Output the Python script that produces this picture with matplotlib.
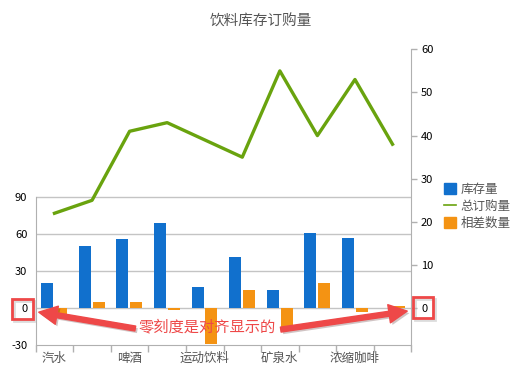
# stock vs order chart, two y axes with zero aligned

import numpy as np
import matplotlib
matplotlib.use("Agg")
import matplotlib.pyplot as plt
import matplotlib.patheffects as pe
from matplotlib.patches import Rectangle, FancyArrowPatch, Patch
from matplotlib.lines import Line2D

plt.rcParams['font.family'] = ['Noto Sans CJK SC', 'DejaVu Sans']
plt.rcParams['axes.unicode_minus'] = False

categories = ['汽水', '', '啤酒', '', '运动饮料', '', '矿泉水', '', '浓缩咖啡', '']
stock = [20, 50, 56, 69, 17, 41, 15, 61, 57, 0]
total_order = [22, 25, 41, 43, 39, 35, 55, 40, 53, 38]
diff = [-5, 5, 5, -2, -29, 15, -15, 20, -3, 2]
left_ticks = [-30, 0, 30, 60, 90]
right_ticks = [0, 10, 20, 30, 40, 50, 60]

blue = '#1170cd'
green = '#69a30e'
orange = '#f49313'
red = '#ee4848'
grid_c = '#c4c4c4'
axis_c = '#b0b0b0'
W, H = 522, 379


def fx(px):
    return px / W


def fy(py):
    return 1 - py / H


fig = plt.figure(figsize=(W / 100, H / 100), dpi=100)
ax = fig.add_axes([fx(35.7), fy(345), fx(411.3) - fx(35.7), fy(49.3) - fy(345)])
ax2 = ax.twinx()

x = np.arange(len(categories))
ax.bar(x - 0.19, stock, width=0.32, color=blue, zorder=3)
ax.bar(x + 0.18, diff, width=0.32, color=orange, zorder=3)
ax2.plot(x, total_order, color=green, lw=2.4, zorder=3)

ax.set_xlim(-0.5, len(categories) - 0.5)
ax.set_ylim(-30, 209.8)
ax2.set_ylim(-8.53, 60)

ax.set_yticks(left_ticks)
ax.set_yticklabels([str(t) for t in left_ticks])
ax2.set_yticks(right_ticks)
ax2.set_yticklabels([str(t) for t in right_ticks])
for t in left_ticks[1:]:
    ax.axhline(t, color=grid_c, lw=1, zorder=1)

ax.set_xticks(x[::2])
ax.set_xticklabels(categories[::2])
ax.set_xticks(np.arange(-0.5, len(categories)), minor=True)
ax.tick_params(axis='x', which='major', length=0, pad=5, labelsize=9, labelcolor='#555555')
ax.tick_params(axis='x', which='minor', length=5, width=1, color=axis_c, direction='out')
ax.tick_params(axis='y', length=0, pad=6, labelsize=8, labelcolor='black')
ax2.tick_params(axis='y', length=4, width=1, color=axis_c, pad=3, labelsize=8, labelcolor='black')

for s in ['top', 'right']:
    ax.spines[s].set_visible(False)
ax.spines['left'].set_bounds(-30, 90)
ax.spines['left'].set_color(axis_c)
ax.spines['bottom'].set_color(axis_c)
for s in ['top', 'left', 'bottom']:
    ax2.spines[s].set_visible(False)
ax2.spines['right'].set_color(axis_c)

fig.text(0.5, fy(22), '饮料库存订购量', ha='center', va='center', fontsize=10.5, color='#555555')

handles = [Patch(color=blue), Line2D([], [], color=green, lw=1.2), Patch(color=orange)]
fig.legend(handles, ['库存量', '总订购量', '相差数量'], loc='upper left',
           bbox_to_anchor=(fx(439), fy(178)), frameon=False, fontsize=9,
           handlelength=0.95, handleheight=0.95, handletextpad=0.4,
           labelspacing=0.3, borderaxespad=0, labelcolor='#555555')

# red boxes around the two zero labels
for (x0, y0, x1, y1) in [(12.3, 299.3, 32.7, 319.3), (413.3, 297, 433.3, 318)]:
    sh = Rectangle((fx(x0 + 1.5), fy(y1 + 1.5)), fx(x1) - fx(x0), fy(y0) - fy(y1),
                   transform=fig.transFigure, fill=False, edgecolor='#bbbbbb', lw=2, alpha=0.5, zorder=9)
    fig.add_artist(sh)
    r = Rectangle((fx(x0), fy(y1)), fx(x1) - fx(x0), fy(y0) - fy(y1), transform=fig.transFigure,
                  fill=False, edgecolor=red, lw=2, zorder=10)
    fig.add_artist(r)

shadow = [pe.withSimplePatchShadow(offset=(1.5, -1.5), alpha=0.25)]
for tail, tip in [((138, 329), (36, 311.7)), ((278, 330), (410, 310.7))]:
    a = FancyArrowPatch((fx(tail[0]), fy(tail[1])), (fx(tip[0]), fy(tip[1])),
                        transform=fig.transFigure, arrowstyle='simple,head_width=2.2,head_length=2.2,tail_width=0.6',
                        mutation_scale=6, color=red, path_effects=shadow, zorder=10)
    fig.add_artist(a)

fig.text(fx(207), fy(327), '零刻度是对齐显示的', ha='center', va='center', fontsize=11,
         color=red, zorder=11)

fig.savefig('out.png', dpi=100)
